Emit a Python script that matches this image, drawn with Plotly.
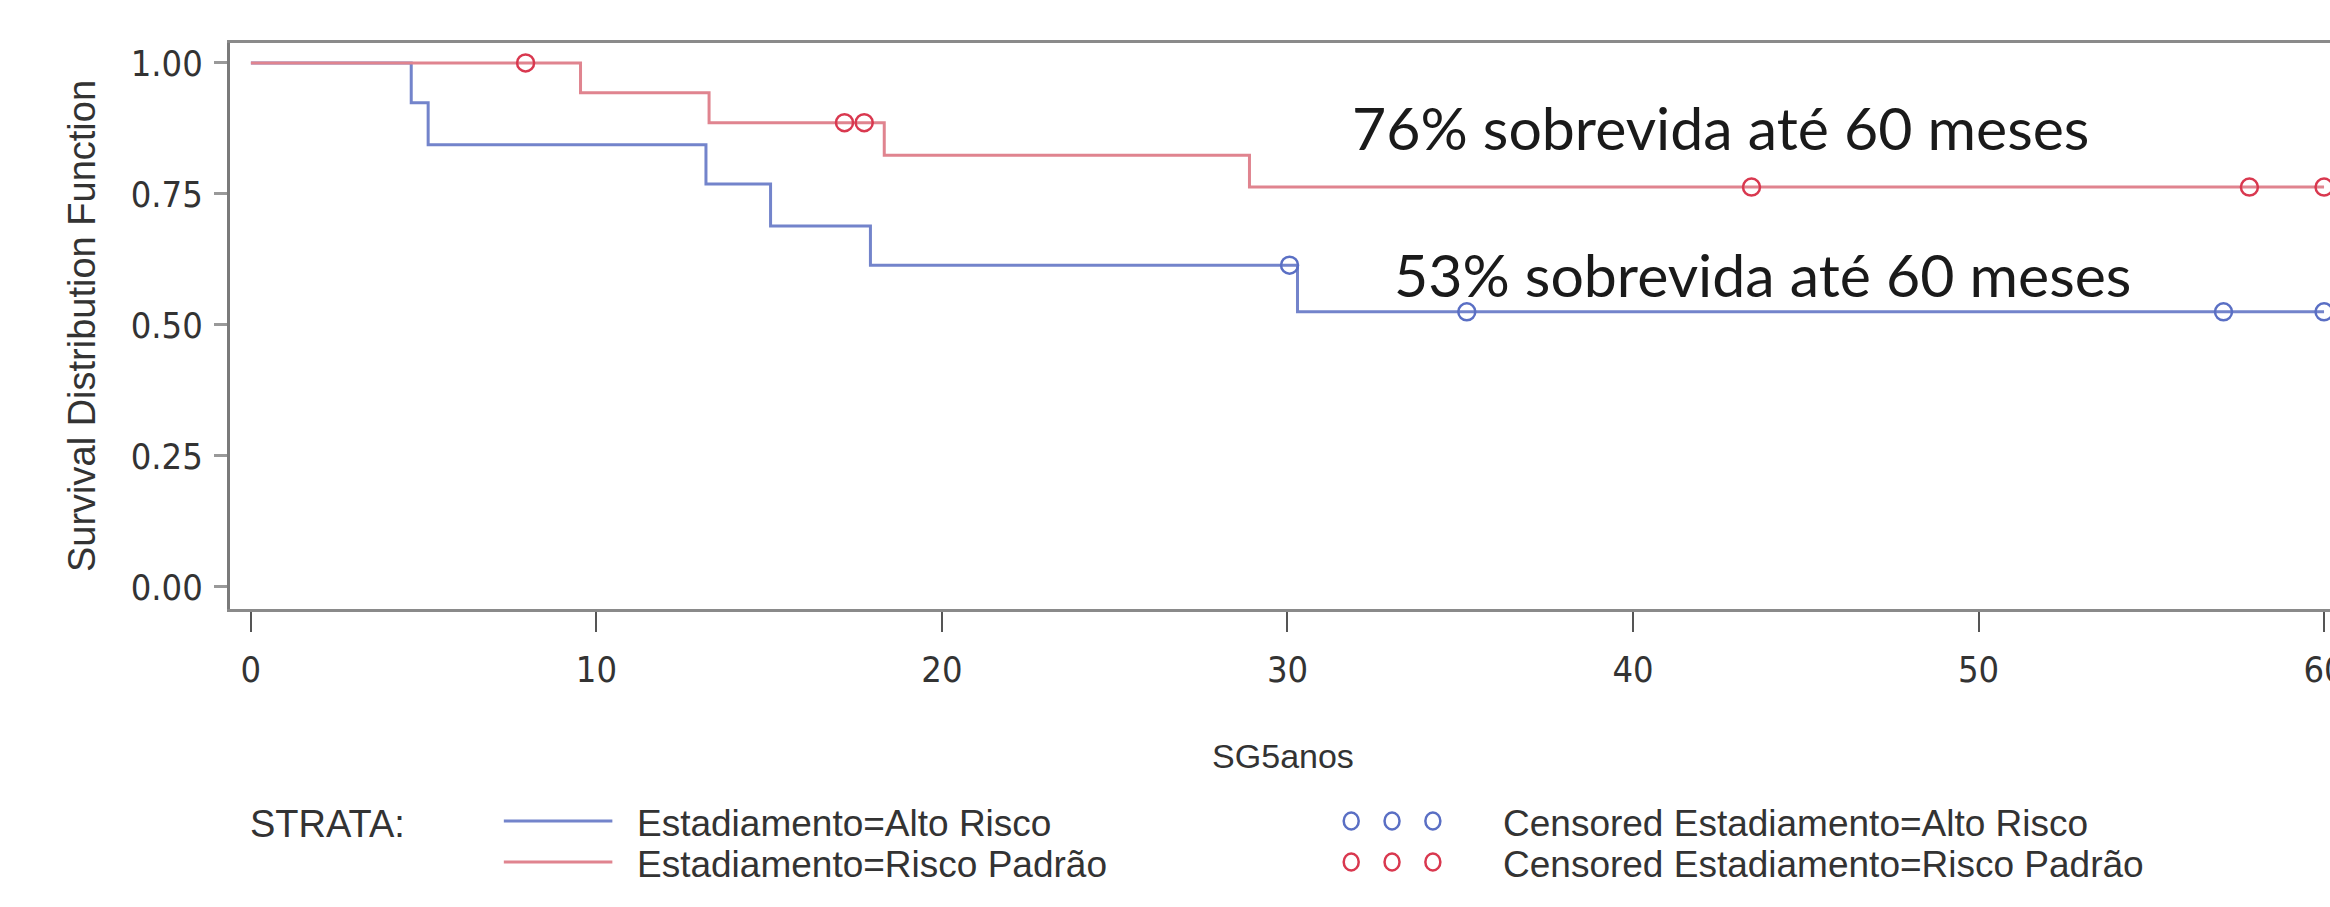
import plotly.graph_objects as go

# ---------------- data ----------------
alto_time = [0, 4.64, 5.13, 13.17, 15.04, 17.93, 30.29, 60]
alto_surv = [1.0, 0.924, 0.844, 0.769, 0.689, 0.614, 0.525, 0.525]
alto_cens_time = [30.06, 35.19, 57.09, 60]
alto_cens_surv = [0.614, 0.525, 0.525, 0.525]

padrao_time = [0, 9.54, 13.26, 18.33, 28.9, 60]
padrao_surv = [1.0, 0.943, 0.886, 0.824, 0.763, 0.763]
padrao_cens_time = [7.95, 17.18, 17.75, 43.43, 57.84, 60]
padrao_cens_surv = [1.0, 0.886, 0.886, 0.763, 0.763, 0.763]

x_ticks = [0, 10, 20, 30, 40, 50, 60]
y_ticks = [0.0, 0.25, 0.5, 0.75, 1.0]

strata_labels = ["Estadiamento=Alto Risco", "Estadiamento=Risco Padrão"]
censored_labels = ["Censored Estadiamento=Alto Risco", "Censored Estadiamento=Risco Padrão"]
note_labels = ["76% sobrevida até 60 meses", "53% sobrevida até 60 meses"]

# ---------------- styles ----------------
W, H = 2345, 907          # page is wider than the 2330 window: the right edge is cropped as in the reference
ML, MR, MT, MB = 230, 0, 43, 298
BLUE_LINE, RED_LINE = "#7384cb", "#e0848f"
BLUE_MK, RED_MK = "#5a6fc4", "#d9384f"
SAS_FONT = "Liberation Sans, Arial, sans-serif"
NARROW_FONT = "Liberation Sans Narrow, Arial Narrow, DejaVu Sans Condensed, Liberation Sans, sans-serif"
NOTE_FONT = "Lato, Carlito, Calibri, sans-serif"
TXT = "#333333"


def xp(px):
    return (px - ML) / (W - ML - MR)


def yp(py):
    return (H - MB - py) / (H - MT - MB)


fig = go.Figure()
fig.add_trace(go.Scatter(x=alto_time, y=alto_surv, mode="lines", line=dict(color=BLUE_LINE, width=3, shape="hv"),
                         name=strata_labels[0], showlegend=False, cliponaxis=False))
fig.add_trace(go.Scatter(x=padrao_time, y=padrao_surv, mode="lines", line=dict(color=RED_LINE, width=3, shape="hv"),
                         name=strata_labels[1], showlegend=False, cliponaxis=False))
fig.add_trace(go.Scatter(x=alto_cens_time, y=alto_cens_surv, mode="markers",
                         marker=dict(symbol="circle-open", size=17, color=BLUE_MK, line=dict(width=2.5, color=BLUE_MK)),
                         name=censored_labels[0], showlegend=False, cliponaxis=False))
fig.add_trace(go.Scatter(x=padrao_cens_time, y=padrao_cens_surv, mode="markers",
                         marker=dict(symbol="circle-open", size=17, color=RED_MK, line=dict(width=2.5, color=RED_MK)),
                         name=censored_labels[1], showlegend=False, cliponaxis=False))

annotations = []
shapes = []

# overlay text
annotations.append(dict(text=note_labels[0], xref="paper", yref="paper", x=xp(1355), y=yp(127),
                        xanchor="left", yanchor="middle", showarrow=False,
                        font=dict(family=NOTE_FONT, size=59, color="#1a1a1a")))
annotations.append(dict(text=note_labels[1], xref="paper", yref="paper", x=xp(1397), y=yp(274),
                        xanchor="left", yanchor="middle", showarrow=False,
                        font=dict(family=NOTE_FONT, size=59, color="#1a1a1a")))

# custom legend (SAS style)
LEG_FS = 37
annotations.append(dict(text="STRATA:", xref="paper", yref="paper", x=xp(248), y=yp(824),
                        xanchor="left", yanchor="middle", showarrow=False,
                        font=dict(family=SAS_FONT, size=LEG_FS + 1, color=TXT)))
rows = [821, 862]
line_cols = [BLUE_LINE, RED_LINE]
mk_cols = [BLUE_MK, RED_MK]
for i in range(2):
    shapes.append(dict(type="line", xref="paper", yref="paper", x0=xp(505), x1=xp(614), y0=yp(rows[i]), y1=yp(rows[i]),
                       line=dict(color=line_cols[i], width=3)))
    annotations.append(dict(text=strata_labels[i], xref="paper", yref="paper", x=xp(637), y=yp(rows[i] + 2),
                            xanchor="left", yanchor="middle", showarrow=False,
                            font=dict(family=SAS_FONT, size=LEG_FS, color=TXT)))
    for cx in [1356, 1397, 1438]:
        shapes.append(dict(type="circle", xref="paper", yref="paper", xsizemode="pixel", ysizemode="pixel",
                           xanchor=xp(cx), yanchor=yp(rows[i]), x0=-7.5, x1=7.5, y0=-8.5, y1=8.5,
                           line=dict(color=mk_cols[i], width=2.5)))
    annotations.append(dict(text=censored_labels[i], xref="paper", yref="paper", x=xp(1506), y=yp(rows[i] + 2),
                            xanchor="left", yanchor="middle", showarrow=False,
                            font=dict(family=SAS_FONT, size=LEG_FS, color=TXT)))

x_hi = -0.605 + (W - ML - MR) / 34.7

fig.update_layout(
    width=W, height=H, autosize=False,
    margin=dict(l=ML, r=MR, t=MT, b=MB, pad=0),
    paper_bgcolor="white", plot_bgcolor="white",
    annotations=annotations, shapes=shapes,
    showlegend=False,
)
fig.update_xaxes(range=[-0.605, x_hi], tickvals=x_ticks, ticktext=[str(v) for v in x_ticks],
                 showgrid=False, zeroline=False, showline=True, linecolor="#8a8a8a", linewidth=3, mirror=True,
                 ticks="outside", ticklen=20, tickwidth=2, tickcolor="#555555", ticklabelstandoff=7,
                 ticklabeloverflow="allow",
                 tickfont=dict(family=NARROW_FONT, size=36, color=TXT),
                 title=dict(text="SG5anos", font=dict(family=SAS_FONT, size=34, color=TXT), standoff=55))
fig.update_yaxes(range=[-0.042, 1.038], tickvals=y_ticks, ticktext=["%.2f" % v for v in y_ticks],
                 showgrid=False, zeroline=False, showline=True, linecolor="#7a7a7a", linewidth=3,
                 ticks="outside", ticklen=13, tickwidth=3, tickcolor="#999999", ticklabelstandoff=4,
                 tickfont=dict(family=NARROW_FONT, size=36, color=TXT),
                 title=dict(text="Survival Distribution Function", font=dict(family=SAS_FONT, size=38, color=TXT),
                            standoff=24))

fig.write_html("out.html", config={"displayModeBar": False},
               post_script="document.body.style.margin='0';")
